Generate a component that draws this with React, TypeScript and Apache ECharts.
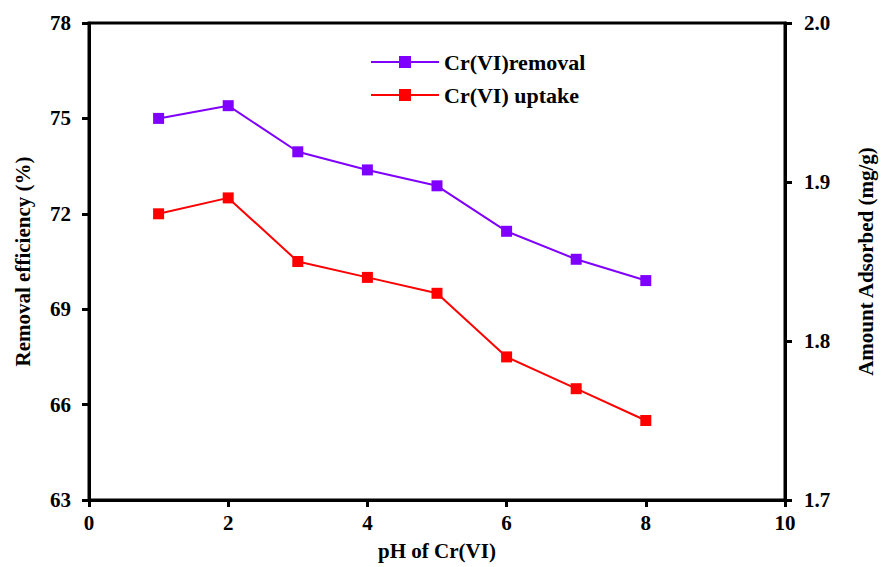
import React, { useEffect, useRef } from "react";
import * as echarts from "echarts";

const phValues = [1, 2, 3, 4, 5, 6, 7, 8];
const removalEfficiency = [75.0, 75.4, 73.95, 73.38, 72.88, 71.45, 70.57, 69.9];
const uptake = [1.88, 1.89, 1.85, 1.84, 1.83, 1.79, 1.77, 1.75];
const seriesNames = ["Cr(VI)removal", "Cr(VI) uptake"];

const FONT = "Liberation Serif";

export default function App() {
  const ref = useRef<HTMLDivElement>(null);
  useEffect(() => {
    document.body.style.margin = "0";
    const chart = echarts.init(ref.current!, null, { renderer: "svg" });
    const axisLine = { show: true, lineStyle: { color: "#000", width: 3 } };
    const axisTick = { show: true, inside: false, length: 7, lineStyle: { color: "#000", width: 3 } };
    const labelStyle = { color: "#000", fontFamily: FONT, fontWeight: "bold" as const, fontSize: 21 };
    const nameStyle = { color: "#000", fontFamily: FONT, fontWeight: "bold" as const, fontSize: 21 };
    chart.setOption({
      animation: false,
      backgroundColor: "#fff",
      textStyle: { fontFamily: FONT },
      grid: { left: 89, right: 94, top: 23, bottom: 67, show: true, borderColor: "#000", borderWidth: 3 },
      legend: {
        orient: "vertical",
        left: 365,
        top: 46,
        itemWidth: 68,
        itemHeight: 15,
        itemGap: 11,
        textStyle: { ...nameStyle, fontSize: 22 },
        data: seriesNames,
      },
      xAxis: {
        type: "value",
        min: 0,
        max: 10,
        interval: 2,
        name: "pH of Cr(VI)",
        nameLocation: "middle",
        nameGap: 40,
        nameTextStyle: nameStyle,
        axisLine,
        axisTick,
        splitLine: { show: false },
        axisLabel: { ...labelStyle, margin: 12 },
      },
      yAxis: [
        {
          type: "value",
          min: 63,
          max: 78,
          interval: 3,
          name: "Removal efficiency (%)",
          nameLocation: "middle",
          nameGap: 56,
          nameTextStyle: nameStyle,
          axisLine,
          axisTick,
          splitLine: { show: false },
          axisLabel: { ...labelStyle, margin: 18 },
        },
        {
          type: "value",
          min: 1.7,
          max: 2.0,
          interval: 0.1,
          position: "right",
          name: "Amount Adsorbed (mg/g)",
          nameLocation: "middle",
          nameGap: 70,
          nameRotate: 90,
          nameTextStyle: nameStyle,
          axisLine,
          axisTick,
          splitLine: { show: false },
          axisLabel: { ...labelStyle, margin: 19, formatter: (v: number) => v.toFixed(1) },
        },
      ],
      series: [
        {
          name: seriesNames[0],
          type: "line",
          yAxisIndex: 0,
          data: phValues.map((x, i) => [x, removalEfficiency[i]]),
          symbol: "rect",
          symbolSize: 11,
          lineStyle: { color: "#7F00FF", width: 2 },
          itemStyle: { color: "#7F00FF" },
        },
        {
          name: seriesNames[1],
          type: "line",
          yAxisIndex: 1,
          data: phValues.map((x, i) => [x, uptake[i]]),
          symbol: "rect",
          symbolSize: 11,
          lineStyle: { color: "#FF0000", width: 2 },
          itemStyle: { color: "#FF0000" },
        },
      ],
    });
    return () => chart.dispose();
  }, []);
  return <div ref={ref} style={{ width: 884, height: 567 }} />;
}
